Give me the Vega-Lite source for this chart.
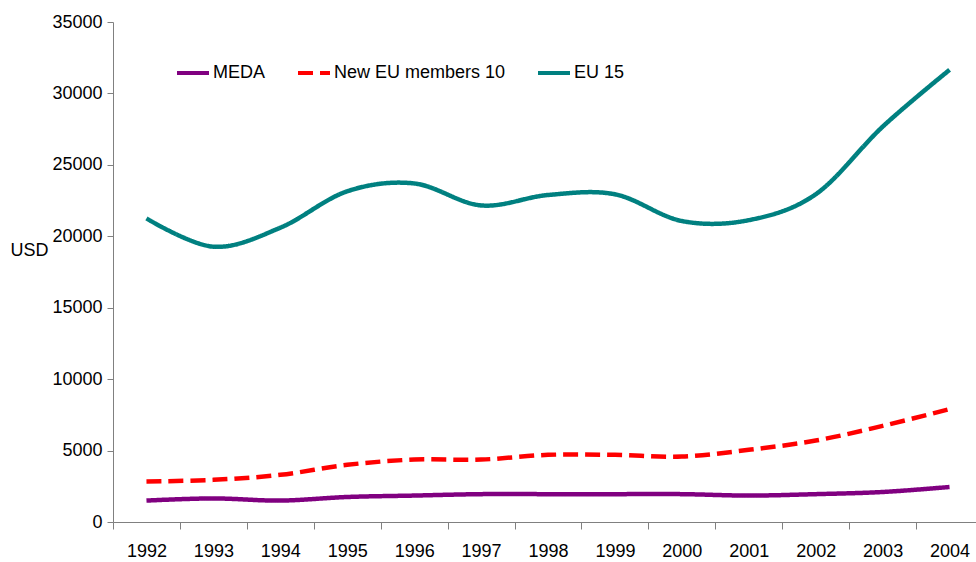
{
  "$schema": "https://vega.github.io/schema/vega-lite/v6.json",
  "width": 863,
  "height": 500,
  "autosize": {"type": "none"},
  "padding": {"left": 113, "top": 22, "right": 0, "bottom": 40},
  "background": "white",
  "config": {
    "view": {"stroke": null},
    "font": "Liberation Sans",
    "axis": {"grid": false, "domainColor": "#808080", "tickColor": "#808080", "labelColor": "#000000", "labelFont": "Liberation Sans", "labelFontSize": 18, "titleFont": "Liberation Sans", "titleFontSize": 18, "titleFontWeight": "normal", "titleColor": "#000000"}
  },
  "data": {
    "values": [
      {"year": "1992", "series": "MEDA", "value": 1500},
      {"year": "1993", "series": "MEDA", "value": 1650},
      {"year": "1994", "series": "MEDA", "value": 1500},
      {"year": "1995", "series": "MEDA", "value": 1750},
      {"year": "1996", "series": "MEDA", "value": 1850},
      {"year": "1997", "series": "MEDA", "value": 1950},
      {"year": "1998", "series": "MEDA", "value": 1950},
      {"year": "1999", "series": "MEDA", "value": 1950},
      {"year": "2000", "series": "MEDA", "value": 1950},
      {"year": "2001", "series": "MEDA", "value": 1850},
      {"year": "2002", "series": "MEDA", "value": 1950},
      {"year": "2003", "series": "MEDA", "value": 2100},
      {"year": "2004", "series": "MEDA", "value": 2450},
      {"year": "1992", "series": "New EU members 10", "value": 2830},
      {"year": "1993", "series": "New EU members 10", "value": 2950},
      {"year": "1994", "series": "New EU members 10", "value": 3300},
      {"year": "1995", "series": "New EU members 10", "value": 4000},
      {"year": "1996", "series": "New EU members 10", "value": 4370},
      {"year": "1997", "series": "New EU members 10", "value": 4370},
      {"year": "1998", "series": "New EU members 10", "value": 4700},
      {"year": "1999", "series": "New EU members 10", "value": 4700},
      {"year": "2000", "series": "New EU members 10", "value": 4580},
      {"year": "2001", "series": "New EU members 10", "value": 5050},
      {"year": "2002", "series": "New EU members 10", "value": 5700},
      {"year": "2003", "series": "New EU members 10", "value": 6730},
      {"year": "2004", "series": "New EU members 10", "value": 7900},
      {"year": "1992", "series": "EU 15", "value": 21250},
      {"year": "1993", "series": "EU 15", "value": 19270},
      {"year": "1994", "series": "EU 15", "value": 20600},
      {"year": "1995", "series": "EU 15", "value": 23150},
      {"year": "1996", "series": "EU 15", "value": 23700},
      {"year": "1997", "series": "EU 15", "value": 22160},
      {"year": "1998", "series": "EU 15", "value": 22890},
      {"year": "1999", "series": "EU 15", "value": 22940},
      {"year": "2000", "series": "EU 15", "value": 21070},
      {"year": "2001", "series": "EU 15", "value": 21130},
      {"year": "2002", "series": "EU 15", "value": 22940},
      {"year": "2003", "series": "EU 15", "value": 27670},
      {"year": "2004", "series": "EU 15", "value": 31650}
    ]
  },
  "mark": {"type": "line", "interpolate": "cardinal", "tension": 0, "strokeWidth": 4.5},
  "encoding": {
    "x": {
      "field": "year", "type": "ordinal",
      "scale": {"type": "band", "paddingInner": 0, "paddingOuter": 0, "range": [0, 870]},
      "axis": {"title": null, "labelAngle": 0, "tickBand": "extent", "tickSize": 7, "labelPadding": 13, "domainWidth": 1}
    },
    "y": {
      "field": "value", "type": "quantitative",
      "scale": {"domain": [0, 35000], "nice": false},
      "axis": {"title": "USD", "values": [0, 5000, 10000, 15000, 20000, 25000, 30000, 35000], "format": "d", "tickSize": 6, "labelPadding": 5, "titleAngle": 0, "titleAlign": "left", "titleBaseline": "middle", "titleX": -103, "titleY": 228}
    },
    "stroke": {
      "field": "series", "type": "nominal",
      "scale": {"domain": ["MEDA", "New EU members 10", "EU 15"], "range": ["#800080", "#ff0000", "#008080"]},
      "legend": {
        "title": null, "orient": "none", "legendX": 62, "legendY": 33, "direction": "horizontal", "columns": 3,
        "columnPadding": 24, "padding": 0, "symbolType": "stroke", "symbolSize": 1024, "symbolStrokeWidth": 4,
        "labelFontSize": 18, "labelOffset": 2, "labelLimit": 400, "labelFont": "Liberation Sans", "labelColor": "#000000"
      }
    },
    "strokeDash": {
      "field": "series", "type": "nominal",
      "scale": {"domain": ["MEDA", "New EU members 10", "EU 15"], "range": [[1, 0], [15, 7], [1, 0]]},
      "legend": {
        "title": null, "orient": "none", "legendX": 62, "legendY": 33, "direction": "horizontal", "columns": 3,
        "columnPadding": 24, "padding": 0, "symbolType": "stroke", "symbolSize": 1024, "symbolStrokeWidth": 4,
        "labelFontSize": 18, "labelOffset": 2, "labelLimit": 400, "labelFont": "Liberation Sans", "labelColor": "#000000"
      }
    }
  }
}
